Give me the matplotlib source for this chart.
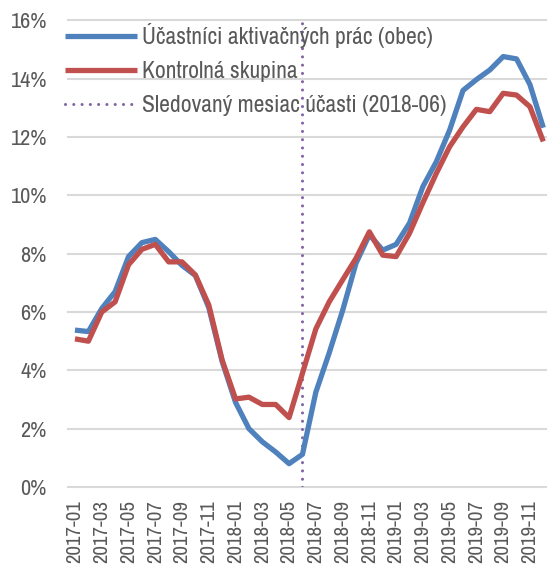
import matplotlib
matplotlib.use("Agg")
import matplotlib.pyplot as plt
from matplotlib.ticker import FuncFormatter

months = ["2017-01", "2017-02", "2017-03", "2017-04", "2017-05", "2017-06",
          "2017-07", "2017-08", "2017-09", "2017-10", "2017-11", "2017-12",
          "2018-01", "2018-02", "2018-03", "2018-04", "2018-05", "2018-06",
          "2018-07", "2018-08", "2018-09", "2018-10", "2018-11", "2018-12",
          "2019-01", "2019-02", "2019-03", "2019-04", "2019-05", "2019-06",
          "2019-07", "2019-08", "2019-09", "2019-10", "2019-11", "2019-12"]

participants = [5.38, 5.33, 6.12, 6.70, 7.90, 8.38, 8.49, 8.07, 7.60, 7.25,
                6.15, 4.30, 2.90, 2.00, 1.55, 1.20, 0.80, 1.12, 3.25, 4.60,
                6.05, 7.67, 8.65, 8.12, 8.32, 9.05, 10.30, 11.15, 12.24, 13.60,
                13.97, 14.30, 14.76, 14.68, 13.80, 12.32]

control = [5.08, 5.00, 6.00, 6.35, 7.62, 8.15, 8.32, 7.72, 7.72, 7.27,
           6.24, 4.35, 3.02, 3.08, 2.83, 2.83, 2.38, 3.90, 5.42, 6.35,
           7.10, 7.84, 8.75, 7.95, 7.90, 8.70, 9.75, 10.75, 11.67, 12.35,
           12.95, 12.87, 13.50, 13.44, 13.04, 11.85]

tracked_month = "2018-06"

labels = ["Účastníci aktivačných prác (obec)", "Kontrolná skupina",
          "Sledovaný mesiac účasti (2018-06)"]

plt.rcParams['font.family'] = ['Liberation Sans Narrow', 'Arial Narrow',
                               'Archivo Narrow', 'PT Sans Narrow',
                               'Roboto Condensed', 'Liberation Sans',
                               'DejaVu Sans']

fig = plt.figure(figsize=(5.47, 5.65), dpi=100)
ax = fig.add_axes([68.3 / 547, 78 / 565, (550 - 68.3) / 547, (487 - 20.4) / 565])

x = list(range(len(months)))
ax.plot(x, participants, color="#4F81BD", lw=3.8, label=labels[0],
        solid_joinstyle="round", solid_capstyle="butt", zorder=3)
ax.plot(x, control, color="#C0504D", lw=3.8, label=labels[1],
        solid_joinstyle="round", solid_capstyle="butt", zorder=3)
ax.axvline(months.index(tracked_month), color="#8064A2", lw=2.2,
           linestyle=(0, (0.01, 2.7)), dash_capstyle="round",
           label=labels[2], zorder=2)

ax.set_xlim(-0.5, len(months) - 0.5)
ax.set_ylim(0, 16)
ax.set_yticks(range(0, 17, 2))
ax.yaxis.set_major_formatter(FuncFormatter(lambda v, p: f"{int(v)}%"))
ax.set_xticks(x[::2])
ax.set_xticklabels(months[::2], rotation=90)

ax.grid(axis="y", color="#D9D9D9", lw=1.5, zorder=0)
ax.set_axisbelow(True)
for s in ax.spines.values():
    s.set_visible(False)
ax.tick_params(axis="both", length=0, colors="#595959")
ax.tick_params(axis="y", pad=15.5, labelsize=16)
ax.tick_params(axis="x", pad=9.4, labelsize=15)
for gl in ax.get_ygridlines():
    gl.set_clip_on(False)

leg = ax.legend(loc="upper left", bbox_to_anchor=(65 / 547, 1 - 23 / 565),
                bbox_transform=fig.transFigure, frameon=False,
                fontsize=17, handlelength=3.05, handletextpad=0.23,
                labelspacing=0.56, borderpad=0, borderaxespad=0)
for t in leg.get_texts():
    t.set_color("#595959")

fig.savefig("out.png", dpi=100)
